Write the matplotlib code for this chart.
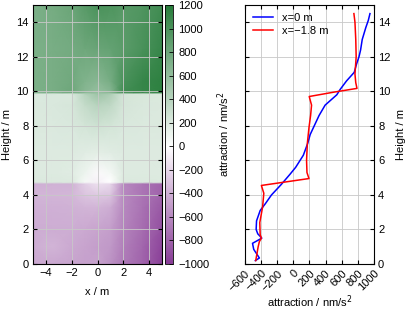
import numpy as np
import matplotlib
matplotlib.use("Agg")
import matplotlib.pyplot as plt
from matplotlib.colors import LinearSegmentedColormap, Normalize

plt.rcParams["font.family"] = ["Liberation Sans", "DejaVu Sans"]
plt.rcParams["font.size"] = 8

# ── Field data (nm/s^2) ───────────────────────────────────────────────────────
grid_x = [-5.0, -3.5, -2.0, -1.0, 0.0, 1.0, 2.0, 3.5, 5.0]
grid_h = [0.0, 1.0, 2.0, 3.3, 4.0, 4.65, 4.75, 5.3, 6.5, 8.0, 9.2, 9.85, 9.95, 10.6, 12.5, 15.0]
field = [
    [-450, -450, -460, -480, -470, -560, -680, -800, -980],   # 0.0
    [-420, -380, -440, -460, -500, -520, -650, -780, -950],   # 1.0
    [-420, -420, -420, -440, -460, -500, -630, -750, -900],   # 2.0
    [-400, -400, -390, -380, -380, -420, -600, -720, -850],   # 3.3
    [-380, -380, -370, -300, -270, -300, -600, -700, -800],   # 4.0
    [-400, -390, -390, -250, -150, -200, -600, -700, -800],   # 4.65
    [200, 200, 195, 50, -80, 0, 200, 200, 200],               # 4.75
    [190, 190, 170, 100, -30, 60, 190, 190, 180],             # 5.3
    [190, 190, 190, 170, 160, 170, 190, 190, 190],            # 6.5
    [200, 200, 205, 240, 270, 240, 205, 200, 200],            # 8.0
    [200, 210, 225, 320, 400, 350, 230, 210, 200],            # 9.2
    [200, 210, 200, 400, 540, 450, 230, 220, 200],            # 9.85
    [720, 740, 800, 650, 580, 650, 1050, 1100, 1150],         # 9.95
    [720, 740, 780, 700, 650, 750, 1000, 1100, 1150],         # 10.6
    [720, 740, 770, 800, 830, 850, 900, 1000, 1100],          # 12.5
    [720, 760, 820, 920, 1000, 980, 920, 960, 1050],          # 15.0
]

# ── Vertical profiles ─────────────────────────────────────────────────────────
blue_h = [0.2, 0.35, 0.6, 0.85, 1.2, 1.5, 1.75, 2.0, 2.5, 3.1, 3.5, 4.0, 4.6,
          5.2, 5.6, 6.3, 7.0, 7.5, 8.0, 8.6, 9.2, 9.8, 10.1, 10.6, 11.1, 11.6,
          12.0, 12.4, 13.0, 13.7, 14.1, 14.5]
blue_v = [-470, -420, -455, -490, -505, -390, -440, -460, -455, -410, -345,
          -270, -150, -40, 30, 125, 180, 210, 260, 320, 395, 540, 580, 660,
          756, 786, 815, 835, 855, 900, 930, 951]

red_h = [0.2, 0.6, 1.0, 1.3, 1.5, 1.7, 2.4, 3.3, 4.1, 4.55, 4.95, 5.3, 6.0,
         7.0, 7.9, 8.6, 9.2, 9.7, 9.95, 10.17, 10.5, 11.0, 12.0, 13.0, 14.0, 14.5]
red_v = [-465, -450, -435, -420, -395, -410, -415, -380, -365, -395, 195, 170,
         165, 175, 195, 215, 227, 198, 500, 790, 775, 765, 780, 775, 765, 752]

cb_ticks = list(range(-1000, 1201, 200))
prof_ticks = list(range(-600, 1001, 200))

# ── Colour map: purple → white (at 0) → green ─────────────────────────────────
VMIN, VMAX = -1000, 1200
zero = -VMIN / (VMAX - VMIN)
cmap = LinearSegmentedColormap.from_list(
    "prgn_shift",
    [(0.0, "#883c96"), (zero, "#ffffff"), (1.0, "#267c3a")],
)
norm = Normalize(VMIN, VMAX)

fig = plt.figure(figsize=(4.15, 3.11), dpi=100)
ax1 = fig.add_axes([0.0795, 0.151, 0.311, 0.833])
cax = fig.add_axes([0.3976, 0.151, 0.0193, 0.833])
ax2 = fig.add_axes([0.590, 0.151, 0.311, 0.833])

GRID = dict(color="#c8c8c8", linewidth=0.6)

# ── Left: map ─────────────────────────────────────────────────────────────────
X, H = np.meshgrid(grid_x, grid_h)
mesh = ax1.pcolormesh(X, H, np.array(field, dtype=float), cmap=cmap, norm=norm,
                      shading="gouraud", rasterized=True)
ax1.set_xlim(-5, 5)
ax1.set_ylim(0, 15)
ax1.set_xticks([-4, -2, 0, 2, 4])
ax1.set_yticks([0, 2, 4, 6, 8, 10, 12, 14])
ax1.grid(True, **GRID)
ax1.set_axisbelow(False)
ax1.tick_params(direction="in", top=True, right=True, length=3, pad=3)
ax1.set_xlabel("x / m", labelpad=6)
ax1.set_ylabel("Height / m", labelpad=3)

cb = fig.colorbar(mesh, cax=cax, ticks=cb_ticks)
cb.outline.set_linewidth(0.6)
cax.tick_params(direction="in", length=3, width=0.6, pad=4)
cb.set_label("attraction / nm/s$^2$", labelpad=4)

# ── Right: profiles ───────────────────────────────────────────────────────────
ax2.plot(blue_v, blue_h, color="#0000ff", lw=1.1, label="x=0 m")
ax2.plot(red_v, red_h, color="#ff0000", lw=1.1, label="x=\u22121.8 m")
ax2.set_xlim(-600, 1000)
ax2.set_ylim(0, 15)
ax2.set_xticks(prof_ticks)
ax2.set_yticks([0, 2, 4, 6, 8, 10, 12, 14])
ax2.grid(True, **GRID)
ax2.set_axisbelow(True)
ax2.yaxis.tick_right()
ax2.yaxis.set_label_position("right")
ax2.tick_params(direction="in", top=True, left=True, right=True, length=3, pad=3)
for lab in ax2.get_xticklabels():
    lab.set_rotation(45)
    lab.set_ha("right")
    lab.set_va("top")
    lab.set_rotation_mode("anchor")
ax2.set_xlabel("attraction / nm/s$^2$", labelpad=0)
ax2.set_ylabel("Height / m", labelpad=4)
ax2.legend(loc="upper left", frameon=False, handlelength=1.8, borderaxespad=0.3,
           labelspacing=0.3, fontsize=8)

fig.savefig("out.png", dpi=100)
